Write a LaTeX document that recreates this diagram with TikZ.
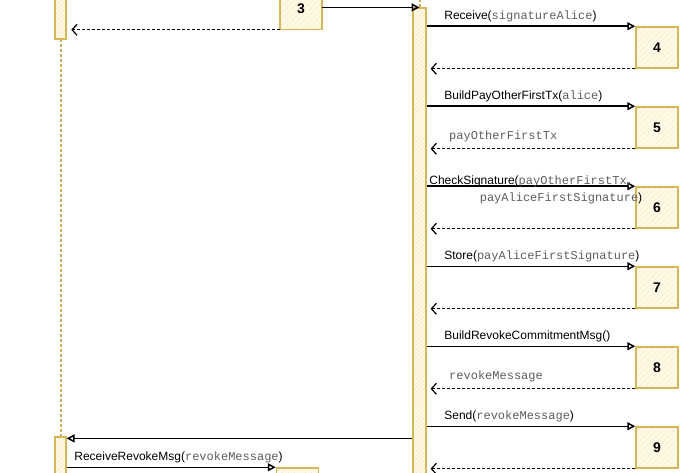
\documentclass[tikz,border=0pt]{standalone}
\usepackage{fontspec}
\setmainfont{Liberation Sans}
\setmonofont{Liberation Mono}
\usetikzlibrary{arrows.meta,patterns.meta}

\definecolor{barline}{HTML}{D6B656}
\definecolor{barfill}{HTML}{FFF9E6}
\definecolor{hatch}{HTML}{F3E7C4}
\definecolor{argtext}{HTML}{5E5E5E}

\newcommand{\argtt}[1]{{\color{argtext}\ttfamily #1}}

\tikzset{
  bar/.style={draw=barline, line width=1.2pt, preaction={fill=barfill},
    pattern={Lines[angle=45,distance=3pt,line width=0.5pt]}, pattern color=hatch,
    minimum width=11pt, inner sep=0pt},
  stepbox/.style={draw=barline, line width=1.5pt, preaction={fill=barfill},
    pattern={Lines[angle=45,distance=4pt,line width=0.6pt]}, pattern color=hatch,
    minimum width=42pt, minimum height=41pt, inner sep=0pt,
    font=\fontsize{14}{14}\selectfont\bfseries},
  lifeline/.style={draw=barline!85!gray, dash pattern=on 3pt off 2pt, line width=2pt},
  call/.style={draw=black, line width=1.5pt, -{Triangle[open,length=8pt,width=8pt]}},
  reply/.style={draw=black, line width=1.2pt, dash pattern=on 3pt off 2pt,
    -{Straight Barb[length=5pt,width=11pt]}},
  fname/.style={anchor=south west, inner sep=1pt, font=\fontsize{12}{14}\selectfont},
}

\begin{document}
\begin{tikzpicture}[x=1pt,y=-1pt]
\useasboundingbox[fill=white] (0,0) rectangle (682,473);

% lifelines and activation bars
\coordinate (midtop) at (419.5,0);
\coordinate (lefttop) at (61,39);
\coordinate (leftbot) at (61,437);
\draw[lifeline] (lefttop) -- (leftbot);
\node[bar, minimum height=49pt] (leftbar1) at (60.5,14.5) {};
\node[bar, minimum height=53pt] (leftbar2) at (60.5,463.5) {};
\node[bar, minimum width=13pt, minimum height=482pt] (midbar) at (419.5,249) {};
\draw[lifeline] (midbar.north) -- (midtop);

% steps
\node[stepbox] (box3) at (301,9) {3};
\foreach \n in {4,...,9}
  \node[stepbox] (box\n) at (657,{47.5+80*(\n-4)}) {\n};
\node[stepbox] (box10) at (297.5,488.5) {};

\draw[call] (box3.east |- midbar.north) -- (midbar.north);
\draw[reply, shorten >=5pt] (box3.south west) -- (leftbar1.east |- box3.south west);

% step 4
\draw[call] (midbar.east |- box4.north west) -- (box4.north west)
  node[fname, pos=0, xshift=16pt, yshift=3pt] (call4) {Receive(\argtt{signatureAlice})};
\draw[reply] (box4.south west) -- ([xshift=4pt]midbar.east |- box4.south west);

% step 5
\draw[call] (midbar.east |- box5.north west) -- (box5.north west)
  node[fname, pos=0, xshift=16pt, yshift=3pt] (call5) {BuildPayOtherFirstTx(\argtt{alice})};
\draw[reply] (box5.south west) -- ([xshift=4pt]midbar.east |- box5.south west)
  node[fname, pos=1, xshift=17pt, yshift=5pt] (ret5) {\argtt{payOtherFirstTx}};

% step 6
\draw[call] (midbar.east |- box6.north west) -- (box6.north west)
  node[fname, pos=0, xshift=1pt, yshift=-2pt] (call6) {CheckSignature(\argtt{payOtherFirstTx,}};
\node[fname, anchor=north west] (call6b) at ([xshift=51pt,yshift=-3pt]call6.south west)
  {\argtt{payAliceFirstSignature})};
\draw[reply] (box6.south west) -- ([xshift=4pt]midbar.east |- box6.south west);

% step 7
\draw[call] (midbar.east |- box7.north west) -- (box7.north west)
  node[fname, pos=0, xshift=16pt, yshift=3pt] (call7) {Store(\argtt{payAliceFirstSignature})};
\draw[reply] (box7.south west) -- ([xshift=4pt]midbar.east |- box7.south west);

% step 8
\draw[call] (midbar.east |- box8.north west) -- (box8.north west)
  node[fname, pos=0, xshift=16pt, yshift=3pt] (call8) {BuildRevokeCommitmentMsg()};
\draw[reply] (box8.south west) -- ([xshift=4pt]midbar.east |- box8.south west)
  node[fname, pos=1, xshift=17pt, yshift=5pt] (ret8) {\argtt{revokeMessage}};

% step 9
\draw[call] (midbar.east |- box9.north west) -- (box9.north west)
  node[fname, pos=0, xshift=16pt, yshift=3pt] (call9) {Send(\argtt{revokeMessage})};
\draw[reply] (box9.south west) -- ([xshift=4pt]midbar.east |- box9.south west);

% back to the left side
\coordinate (sendin) at ([yshift=-2pt]leftbar2.north east);
\draw[call] (midbar.west |- sendin) -- (sendin);
\draw[call] (leftbar2.east |- box10.north west) -- (box10.north west)
  node[fname, pos=0, xshift=6pt, yshift=3pt] (call10) {ReceiveRevokeMsg(\argtt{revokeMessage})};
\end{tikzpicture}
\end{document}
